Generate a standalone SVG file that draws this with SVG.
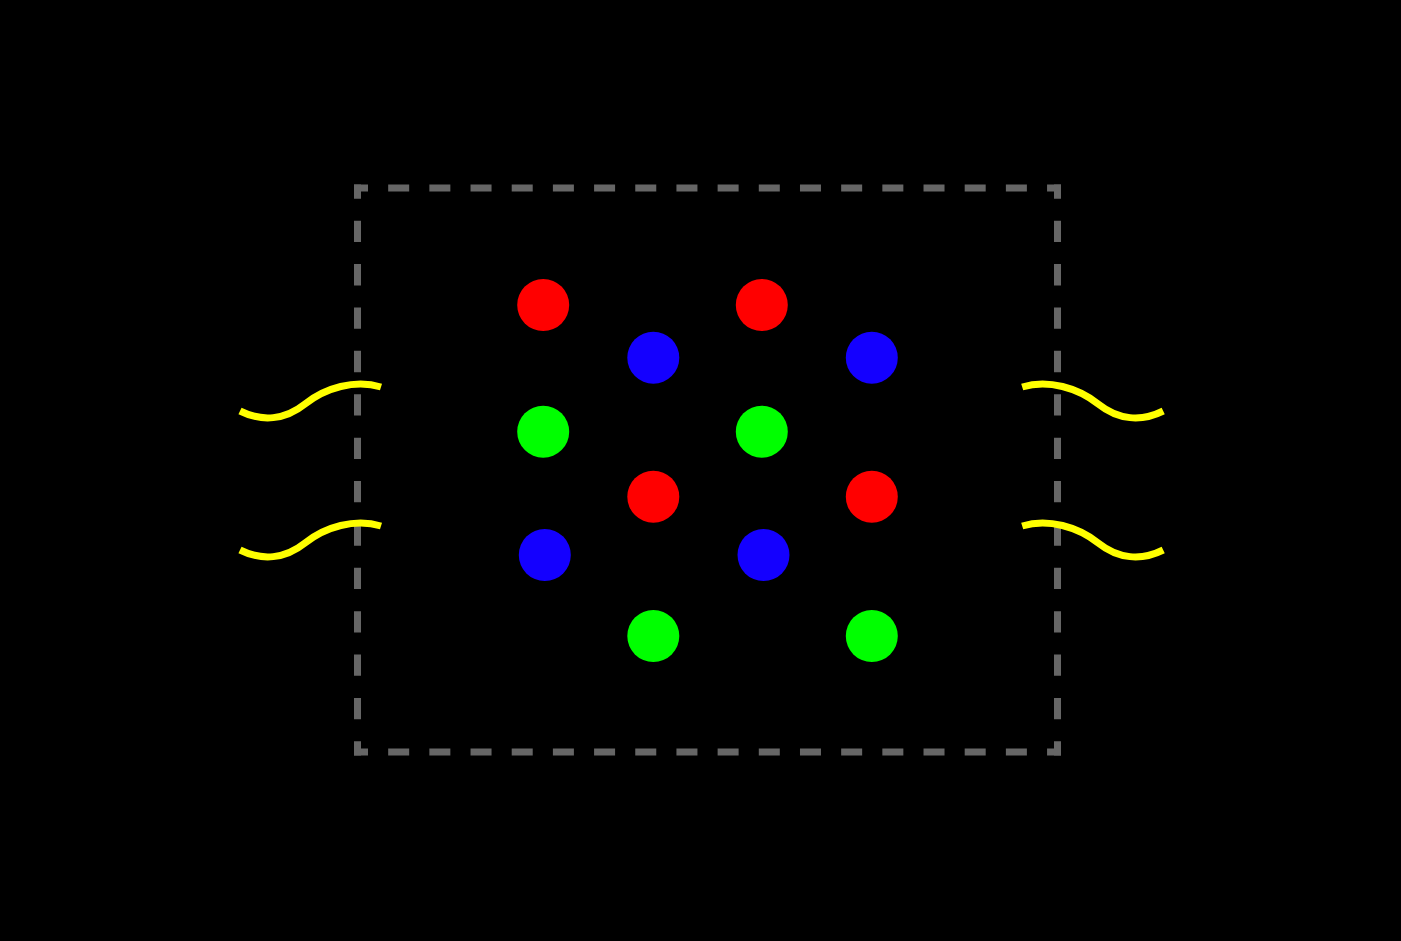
<svg xmlns="http://www.w3.org/2000/svg" width="1401" height="941" viewBox="0 0 1401 941">
  <style>
    .frame { fill: none; stroke: #666666; stroke-width: 7; stroke-linecap: butt; }
    .h { stroke-dasharray: 21 20.18; stroke-dashoffset: 7; }
    .v { stroke-dasharray: 21.3 22.08; stroke-dashoffset: 7.15; }
    .wave { fill: none; stroke: #ffff00; stroke-width: 7; stroke-linecap: butt; }
    .r { fill: #ff0000; }
    .g { fill: #00ff00; }
    .b { fill: #1400ff; }
  </style>
  <defs>
    <path id="wave" d="M240,411 C262,422 285,420 305,404 C325,388 355,379 381,387"/>
  </defs>
  <rect x="0" y="0" width="1401" height="941" fill="#000000"/>

  <g id="frame">
    <line class="frame h" x1="354" y1="188" x2="1061" y2="188"/>
    <line class="frame h" x1="354" y1="752" x2="1061" y2="752"/>
    <line class="frame v" x1="357.5" y1="184.5" x2="357.5" y2="755.5"/>
    <line class="frame v" x1="1057.5" y1="184.5" x2="1057.5" y2="755.5"/>
  </g>

  <g id="connectors">
    <use href="#wave" class="wave"/>
    <use href="#wave" class="wave" transform="translate(0,139)"/>
    <use href="#wave" class="wave" transform="translate(1403.2,0) scale(-1,1)"/>
    <use href="#wave" class="wave" transform="translate(1403.2,139) scale(-1,1)"/>
  </g>

  <g id="node-r1"><circle class="r" cx="543.2" cy="305" r="26"/></g>
  <g id="node-r2"><circle class="r" cx="761.8" cy="305" r="26"/></g>
  <g id="node-b1"><circle class="b" cx="653.3" cy="357.7" r="26"/></g>
  <g id="node-b2"><circle class="b" cx="871.8" cy="357.7" r="26"/></g>
  <g id="node-g1"><circle class="g" cx="543.2" cy="431.7" r="26"/></g>
  <g id="node-g2"><circle class="g" cx="761.8" cy="431.7" r="26"/></g>
  <g id="node-r3"><circle class="r" cx="653.3" cy="496.7" r="26"/></g>
  <g id="node-r4"><circle class="r" cx="871.8" cy="496.7" r="26"/></g>
  <g id="node-b3"><circle class="b" cx="544.8" cy="555" r="26"/></g>
  <g id="node-b4"><circle class="b" cx="763.5" cy="555" r="26"/></g>
  <g id="node-g3"><circle class="g" cx="653.3" cy="636" r="26"/></g>
  <g id="node-g4"><circle class="g" cx="871.8" cy="636" r="26"/></g>
</svg>
